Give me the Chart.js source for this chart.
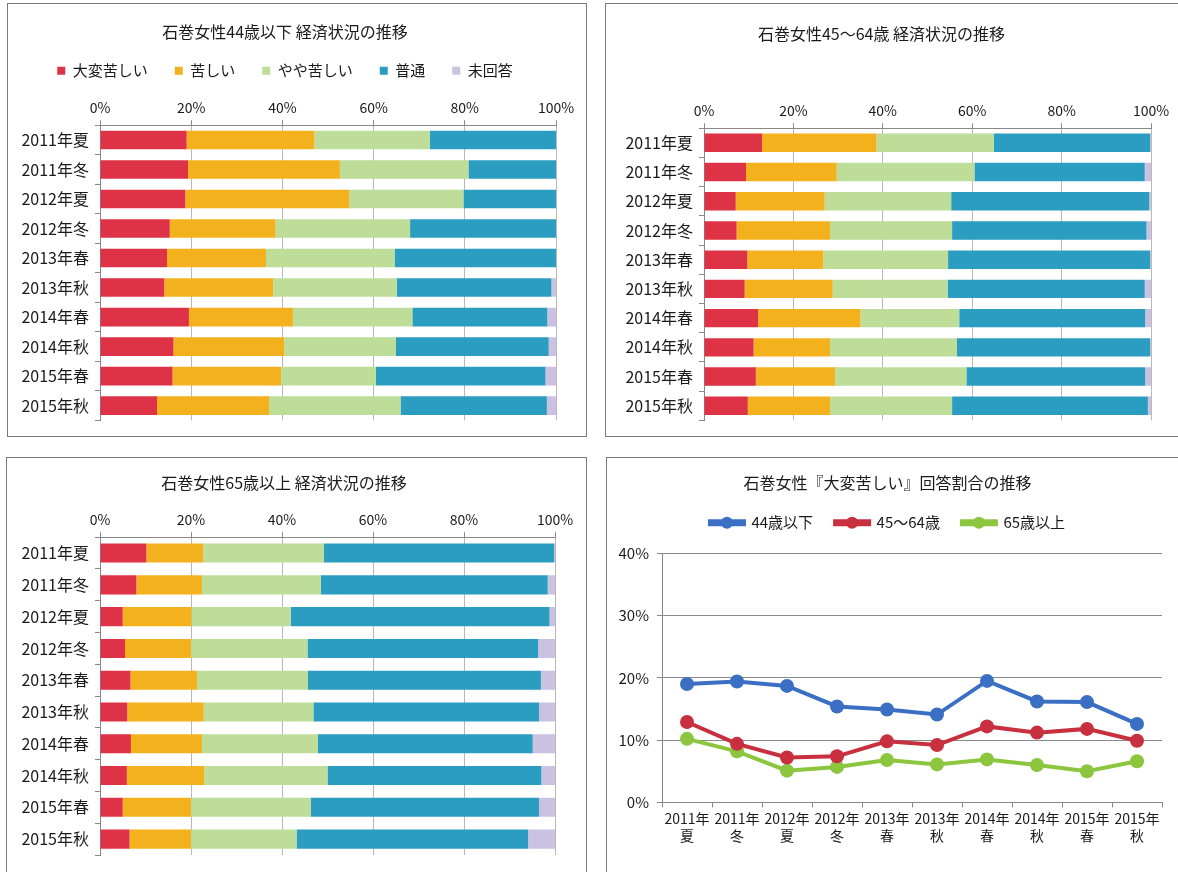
<!DOCTYPE html>
<html>
<head>
<meta charset="utf-8">
<script src="https://cdn.jsdelivr.net/npm/chart.js@4.4.1/dist/chart.umd.min.js"></script>
<style>
html, body { margin: 0; padding: 0; background: #ffffff; overflow: hidden; width: 1178px; height: 872px; }
.panel { position: absolute; border: 1px solid #7a7a7a; background: #fff; }
.panel canvas { position: absolute; left: 0; top: 0; }
</style>
</head>
<body>
<div class="panel" style="left:7px; top:3px; width:578px; height:432px;"><canvas id="c1" width="578" height="432"></canvas></div>
<div class="panel" style="left:605px; top:3px; width:580px; height:432px;"><canvas id="c2" width="580" height="432"></canvas></div>
<div class="panel" style="left:6px; top:457px; width:579px; height:420px;"><canvas id="c3" width="579" height="420"></canvas></div>
<div class="panel" style="left:606px; top:457px; width:580px; height:420px;"><canvas id="c4" width="580" height="420"></canvas></div>

<script>
// 調査時期
var periods = ['2011年夏', '2011年冬', '2012年夏', '2012年冬', '2013年春', '2013年秋', '2014年春', '2014年秋', '2015年春', '2015年秋'];
var periodsTwoLine = [['2011年', '夏'], ['2011年', '冬'], ['2012年', '夏'], ['2012年', '冬'], ['2013年', '春'], ['2013年', '秋'], ['2014年', '春'], ['2014年', '秋'], ['2015年', '春'], ['2015年', '秋']];
var answers = ['大変苦しい', '苦しい', 'やや苦しい', '普通', '未回答'];

// 44歳以下 (%)
var u44_taihen = [19.0, 19.3, 18.7, 15.3, 14.7, 14.1, 19.5, 16.1, 15.9, 12.5];
var u44_kurushii = [28.0, 33.3, 36.0, 23.2, 21.7, 23.9, 22.8, 24.3, 23.8, 24.6];
var u44_yaya = [25.3, 28.2, 25.0, 29.5, 28.2, 27.1, 26.2, 24.5, 20.8, 28.8];
var u44_futsu = [27.7, 19.2, 20.3, 32.0, 35.4, 33.9, 29.6, 33.5, 37.2, 32.1];
var u44_mikaito = [0, 0, 0, 0, 0, 1.0, 1.9, 1.6, 2.3, 2.0];

// 45〜64歳 (%)
var m45_taihen = [13.0, 9.4, 7.1, 7.3, 9.7, 9.1, 12.1, 11.1, 11.6, 9.8];
var m45_kurushii = [25.6, 20.3, 19.9, 20.9, 17.0, 19.7, 22.9, 17.1, 17.7, 18.4];
var m45_yaya = [26.2, 30.8, 28.3, 27.3, 27.9, 25.7, 22.1, 28.4, 29.4, 27.3];
var m45_futsu = [35.0, 38.1, 44.3, 43.5, 45.2, 44.1, 41.6, 43.2, 40.0, 43.8];
var m45_mikaito = [0.2, 1.4, 0.4, 1.0, 0.2, 1.4, 1.3, 0.2, 1.3, 0.7];

// 65歳以上 (%)
var o65_taihen = [10.2, 8.0, 5.0, 5.5, 6.7, 6.0, 6.8, 5.9, 5.0, 6.5];
var o65_kurushii = [12.5, 14.4, 15.1, 14.5, 14.6, 16.8, 15.6, 17.0, 15.0, 13.5];
var o65_yaya = [26.5, 26.1, 21.8, 25.6, 24.4, 24.1, 25.5, 27.1, 26.3, 23.2];
var o65_futsu = [50.6, 49.9, 56.9, 50.7, 51.2, 49.6, 47.2, 47.0, 50.2, 50.9];
var o65_mikaito = [0.2, 1.6, 1.2, 3.7, 3.1, 3.5, 4.9, 3.0, 3.5, 5.9];

// 『大変苦しい』回答割合 (%)
var line_u44 = [19.0, 19.4, 18.7, 15.4, 14.9, 14.1, 19.5, 16.2, 16.1, 12.6];
var line_m45 = [12.9, 9.4, 7.2, 7.4, 9.8, 9.2, 12.2, 11.2, 11.8, 9.9];
var line_o65 = [10.2, 8.2, 5.1, 5.7, 6.8, 6.1, 6.9, 6.0, 5.0, 6.6];
var lineNames = ['44歳以下', '45〜64歳', '65歳以上'];

var FONT = "'Noto Sans CJK JP', 'Noto Sans', sans-serif";
var barColors = ['#de3347', '#f3b21d', '#bddd98', '#2b9dc0', '#cbc2e2'];
var lineColors = ['#3a6fc4', '#c8303f', '#8cc63f'];

Chart.defaults.font.family = FONT;
Chart.defaults.color = '#1a1a1a';
Chart.defaults.animation = false;

function makeBarChart(id, title, series, opt) {
  var datasets = [];
  for (var i = 0; i < series.length; i++) {
    datasets.push({
      label: answers[i],
      data: series[i],
      backgroundColor: barColors[i],
      borderWidth: 0,
      barPercentage: opt.barPct,
      categoryPercentage: 1
    });
  }
  return new Chart(document.getElementById(id), {
    type: 'bar',
    data: { labels: periods, datasets: datasets },
    options: {
      indexAxis: 'y',
      responsive: false,
      layout: { padding: opt.padding },
      plugins: {
        title: { display: true, text: title, color: '#1a1a1a', font: { size: 16, weight: 'normal' }, padding: { top: 10, bottom: opt.titleBottom } },
        legend: {
          display: opt.legend,
          labels: { boxWidth: 8, boxHeight: 8, padding: 27, color: '#1a1a1a', font: { size: 15 } }
        },
        tooltip: { enabled: false }
      },
      scales: {
        x: {
          position: 'top', stacked: true, min: 0, max: 100,
          ticks: { stepSize: 20, color: '#1a1a1a', font: { size: 14 }, padding: 4, callback: function(v) { return v + '%'; } },
          grid: { color: '#b8b8b8', tickLength: 5, tickColor: '#888' },
          border: { display: true, color: '#888' },
          afterFit: function(s) { s.height = opt.xHeight; }
        },
        y: {
          stacked: true,
          ticks: { color: '#1a1a1a', font: { size: 16 }, padding: 6 },
          grid: { offset: true, drawOnChartArea: false, tickLength: 5, tickColor: '#888' },
          border: { display: true, color: '#888' },
          afterFit: function(s) { s.width = opt.yWidth; }
        }
      }
    }
  });
}

makeBarChart('c1', '石巻女性44歳以下 経済状況の推移',
  [u44_taihen, u44_kurushii, u44_yaya, u44_futsu, u44_mikaito],
  { barPct: 0.63, legend: true, padding: { left: 6, right: 30, top: 8, bottom: 4 }, titleBottom: -5, xHeight: 37, yWidth: 86 });

makeBarChart('c2', '石巻女性45〜64歳 経済状況の推移',
  [m45_taihen, m45_kurushii, m45_yaya, m45_futsu, m45_mikaito],
  { barPct: 0.63, legend: false, padding: { left: 6, right: 35, top: 10, bottom: 6 }, titleBottom: 10, xHeight: 75, yWidth: 92 });

makeBarChart('c3', '石巻女性65歳以上 経済状況の推移',
  [o65_taihen, o65_kurushii, o65_yaya, o65_futsu, o65_mikaito],
  { barPct: 0.6, legend: false, padding: { left: 6, right: 31, top: 5, bottom: 23 }, titleBottom: 10, xHeight: 35, yWidth: 87 });

// 凡例に線+マーカーを描く
var legendMarker = {
  id: 'legendMarker',
  afterDraw: function(chart) {
    var lg = chart.legend;
    if (!lg || !lg.legendHitBoxes) return;
    var ctx = chart.ctx;
    ctx.save();
    for (var i = 0; i < lg.legendHitBoxes.length; i++) {
      var hb = lg.legendHitBoxes[i];
      var bw = lg.options.labels.boxWidth;
      var cx = hb.left + bw / 2;
      var cy = hb.top + hb.height / 2;
      ctx.fillStyle = lineColors[i];
      ctx.beginPath();
      ctx.arc(cx, cy, 6, 0, Math.PI * 2);
      ctx.fill();
    }
    ctx.restore();
  }
};

var lineSeries = [line_u44, line_m45, line_o65];
var lineDatasets = [];
for (var k = 0; k < lineSeries.length; k++) {
  lineDatasets.push({
    label: lineNames[k],
    data: lineSeries[k],
    borderColor: lineColors[k],
    backgroundColor: lineColors[k],
    borderWidth: 4,
    pointRadius: 7,
    pointHoverRadius: 7,
    pointBorderWidth: 0,
    tension: 0
  });
}

new Chart(document.getElementById('c4'), {
  type: 'line',
  data: { labels: periodsTwoLine, datasets: lineDatasets },
  plugins: [legendMarker],
  options: {
    responsive: false,
    layout: { padding: { left: 6, right: 25, top: 5, bottom: 31 } },
    plugins: {
      title: { display: true, text: '石巻女性『大変苦しい』回答割合の推移', color: '#1a1a1a', font: { size: 16, weight: 'normal' }, padding: { top: 10, bottom: 1 } },
      // 凡例と描画領域の間の余白
      subtitle: { display: true, text: ' ', weight: 500, font: { size: 1, lineHeight: 1 }, padding: { top: 0, bottom: 12 } },
      legend: {
        labels: { boxWidth: 34, boxHeight: 3, padding: 22, color: '#1a1a1a', font: { size: 15 } }
      },
      tooltip: { enabled: false }
    },
    scales: {
      x: {
        offset: true,
        ticks: { color: '#1a1a1a', font: { size: 14 }, maxRotation: 0, autoSkip: false, padding: 3 },
        grid: { offset: true, drawOnChartArea: false, tickLength: 5, tickColor: '#888' },
        border: { display: true, color: '#888' }
      },
      y: {
        min: 0, max: 40,
        ticks: { stepSize: 10, color: '#1a1a1a', font: { size: 15 }, padding: 8, callback: function(v) { return v + '%'; } },
        grid: { color: '#8a8a8a', tickLength: 5, tickColor: '#888' },
        border: { display: true, color: '#888' },
        afterFit: function(s) { s.width = 49; }
      }
    }
  }
});
</script>
</body>
</html>
